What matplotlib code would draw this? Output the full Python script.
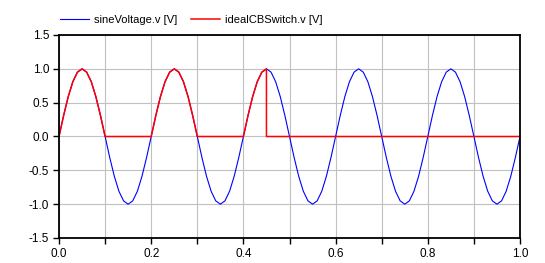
import numpy as np
import matplotlib
matplotlib.use('Agg')
import matplotlib.pyplot as plt

plt.rcParams['font.family'] = ['Liberation Sans', 'DejaVu Sans']
plt.rcParams['axes.unicode_minus'] = False

# sineVoltage.v sampled every 0.01 s from 0 to 1
tempo = np.linspace(0.0, 1.0, 101)
sine_v = [
    0.000, 0.309, 0.588, 0.809, 0.951, 1.000, 0.951, 0.809, 0.588, 0.309,
    0.000, -0.309, -0.588, -0.809, -0.951, -1.000, -0.951, -0.809, -0.588, -0.309,
    0.000, 0.309, 0.588, 0.809, 0.951, 1.000, 0.951, 0.809, 0.588, 0.309,
    0.000, -0.309, -0.588, -0.809, -0.951, -1.000, -0.951, -0.809, -0.588, -0.309,
    0.000, 0.309, 0.588, 0.809, 0.951, 1.000, 0.951, 0.809, 0.588, 0.309,
    0.000, -0.309, -0.588, -0.809, -0.951, -1.000, -0.951, -0.809, -0.588, -0.309,
    0.000, 0.309, 0.588, 0.809, 0.951, 1.000, 0.951, 0.809, 0.588, 0.309,
    0.000, -0.309, -0.588, -0.809, -0.951, -1.000, -0.951, -0.809, -0.588, -0.309,
    0.000, 0.309, 0.588, 0.809, 0.951, 1.000, 0.951, 0.809, 0.588, 0.309,
    0.000, -0.309, -0.588, -0.809, -0.951, -1.000, -0.951, -0.809, -0.588, -0.309,
    0.000,
]

# idealCBSwitch.v: 0..0.45 every 0.01 s, then the drop at 0.45 and flat to 1.0
tempo_cb = list(np.linspace(0.0, 0.45, 46)) + [0.45, 1.0]
switch_v = [
    0.000, 0.309, 0.588, 0.809, 0.951, 1.000, 0.951, 0.809, 0.588, 0.309, 0.000,
    0.0, 0.0, 0.0, 0.0, 0.0, 0.0, 0.0, 0.0, 0.0,
    0.000, 0.309, 0.588, 0.809, 0.951, 1.000, 0.951, 0.809, 0.588, 0.309, 0.000,
    0.0, 0.0, 0.0, 0.0, 0.0, 0.0, 0.0, 0.0, 0.0,
    0.000, 0.309, 0.588, 0.809, 0.951, 1.000,
    0.0, 0.0,
]

x_ticks = [0.0, 0.2, 0.4, 0.6, 0.8, 1.0]
y_ticks = [-1.5, -1.0, -0.5, 0.0, 0.5, 1.0, 1.5]

fig = plt.figure(figsize=(5.45, 2.63), dpi=100)
ax = fig.add_axes([59 / 545, 1 - 238 / 263, (520 - 59) / 545, (238 - 35) / 263])

ax.plot(tempo, sine_v, color='#0000ff', lw=0.8, label='sineVoltage.v [V]')
ax.plot(tempo_cb, switch_v, color='#ff0000', lw=1.1, label='idealCBSwitch.v [V]')

ax.set_xlim(0, 1)
ax.set_ylim(-1.5, 1.5)
ax.set_xticks(x_ticks)
ax.set_xticklabels([f'{v:.1f}' for v in x_ticks])
ax.set_yticks(y_ticks)
ax.set_yticklabels([f'{v:.1f}' for v in y_ticks])
ax.set_xticks(np.linspace(0, 1, 11), minor=True)
ax.grid(True, which='both', color='#c0c0c0', lw=0.8)
ax.set_axisbelow(True)
ax.tick_params(axis='both', which='both', direction='out', length=4, width=1,
               labelsize=8.5, colors='black', pad=3)
ax.tick_params(axis='x', which='minor', length=4)
for s in ax.spines.values():
    s.set_linewidth(1.3)
    s.set_color('black')

fig.legend(loc='center left', bbox_to_anchor=(60 / 545, 1 - 20 / 263), ncol=2,
           frameon=False, fontsize=8, handlelength=2.6, handletextpad=0.5,
           columnspacing=1.2, borderpad=0, borderaxespad=0)

fig.savefig('out.png', dpi=100)
